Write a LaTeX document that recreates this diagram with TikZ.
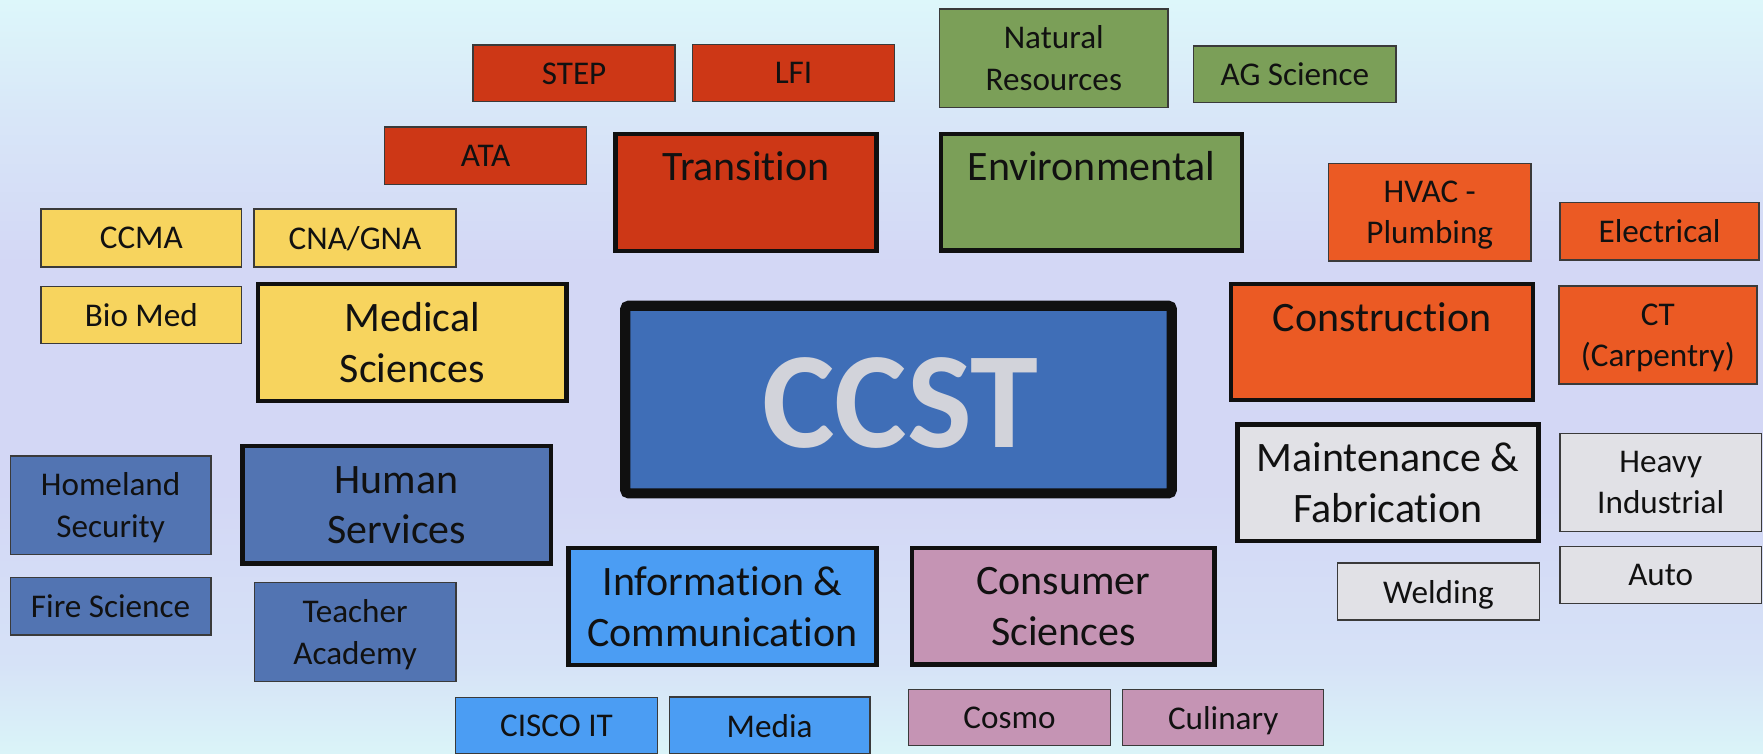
\documentclass[tikz,border=0pt]{standalone}
\usepackage{fontspec}
\setmainfont[Ligatures=NoCommon]{Carlito}
\definecolor{cred}{HTML}{CD3716}
\definecolor{cgreen}{HTML}{7B9F58}
\definecolor{corange}{HTML}{EB5A24}
\definecolor{cyellow}{HTML}{F7D45E}
\definecolor{cblue}{HTML}{5274B2}
\definecolor{cccst}{HTML}{3F6EB7}
\definecolor{clblue}{HTML}{4B9DF3}
\definecolor{cmauve}{HTML}{C594B4}
\definecolor{cgray}{HTML}{E1E1E6}
\definecolor{ccsttext}{HTML}{D2D3DA}
\definecolor{smline}{HTML}{3A3A3A}
\definecolor{bigline}{HTML}{101010}
\definecolor{txt}{HTML}{111111}
\definecolor{bgtop}{HTML}{DDF7FA}
\definecolor{bgup}{HTML}{D8E6F8}
\definecolor{bgmid}{HTML}{D3D7F5}
\definecolor{bglow}{HTML}{D6E2F7}
\definecolor{bgbot}{HTML}{DAF4F8}
\pgfdeclareverticalshading{bgshade}{100bp}{color(0bp)=(bgbot); color(25bp)=(bgbot); color(31bp)=(bglow); color(42.5bp)=(bgmid); color(57.5bp)=(bgmid); color(67bp)=(bgup); color(75bp)=(bgtop); color(100bp)=(bgtop)}
\newcommand\mkbox[8]{%
 \pgfmathsetmacro\bxcx{(#4+#6)/2}%
 \pgfmathsetmacro\bxcy{(#5+#7)/2}%
 \pgfmathsetmacro\bxw{#6-#4-2*#3}%
 \pgfmathsetmacro\bxh{#7-#5-2*#3}%
 \node[#2, minimum width=\bxw pt, minimum height=\bxh pt] (#1) at (\bxcx,\bxcy) {#8};}
\begin{document}
\begin{tikzpicture}[x=1pt,y=-1pt,
  sm/.style={draw=smline, line width=1.3pt, inner sep=0pt, align=center, text depth=0pt, font=\fontsize{29.5}{37}\selectfont, text=txt},
  big/.style={draw=bigline, line width=3.8pt, inner sep=0pt, align=center, text depth=0pt, font=\fontsize{37.3}{45}\selectfont, text=txt},
  bigtxt/.style={inner sep=0pt, font=\fontsize{37.3}{45}\selectfont, text=txt, anchor=base},
  ccstbox/.style={draw=bigline, line width=9pt, rounded corners=3pt, inner sep=0pt, fill=cccst},
  ccsttxt/.style={inner sep=0pt, anchor=base, text=ccsttext, font=\fontsize{122}{140}\selectfont\bfseries}
]
\useasboundingbox (0,0) rectangle (1568.5,670);
\clip (0,0) rectangle (1568.5,670);
\shade[shading=bgshade] (0,0) rectangle (1568.5,670);

% Transition group
\mkbox{step}{sm,fill=cred}{0}{421}{40}{600.5}{90.5}{STEP}
\mkbox{lfi}{sm,fill=cred}{0}{616}{39.5}{796}{90.5}{LFI}
\mkbox{ata}{sm,fill=cred}{0}{342}{113}{522}{164}{ATA}
\mkbox{trans}{big,fill=cred}{1.9}{545.7}{117}{781.7}{225}{}
\node[bigtxt] (transT) at ([yshift=-44pt]trans.north) {Transition};

% Environmental group
\mkbox{natres}{sm,fill=cgreen}{0}{836}{8}{1039}{95.5}{Natural\\Resources}
\mkbox{agsci}{sm,fill=cgreen}{0}{1062}{41}{1242}{91}{AG Science}
\mkbox{env}{big,fill=cgreen}{1.9}{835}{117}{1107}{224.8}{}
\node[bigtxt] (envT) at ([yshift=-44pt]env.north) {Environmental};

% Medical group
\mkbox{ccma}{sm,fill=cyellow}{0}{36.5}{186}{215}{237.5}{CCMA}
\mkbox{cna}{sm,fill=cyellow}{0}{226}{186}{405.6}{237.5}{CNA/GNA}
\mkbox{biomed}{sm,fill=cyellow}{0}{36.5}{255}{215}{305.5}{Bio Med}
\mkbox{med}{big,fill=cyellow}{1.9}{227.4}{251}{506}{358.8}{Medical\\Sciences}

% Construction group
\mkbox{hvac}{sm,fill=corange}{0}{1182}{145.3}{1362}{232.2}{HVAC -\\Plumbing}
\mkbox{elec}{sm,fill=corange}{0}{1388}{180.3}{1565}{231.3}{Electrical}
\mkbox{ct}{sm,fill=corange}{0}{1387}{254.5}{1563}{341.8}{CT\\(Carpentry)}
\mkbox{constr}{big,fill=corange}{1.9}{1093.5}{250.6}{1365.6}{358}{}
\node[bigtxt] (constrT) at ([yshift=-44pt]constr.north) {Construction};

% Maintenance group
\mkbox{maint}{big,fill=cgray}{1.9}{1099}{375.7}{1370.7}{483.4}{Maintenance \&\\Fabrication}
\mkbox{heavy}{sm,fill=cgray}{0}{1388}{385.5}{1567}{473}{Heavy\\Industrial}
\mkbox{weld}{sm,fill=cgray}{0}{1190}{501}{1369.5}{551.6}{Welding}
\mkbox{auto}{sm,fill=cgray}{0}{1388}{486.4}{1567}{536.8}{Auto}

% Human services group
\mkbox{home}{sm,fill=cblue}{0}{9.2}{405.7}{187.6}{493.2}{Homeland\\Security}
\mkbox{fire}{sm,fill=cblue}{0}{9.2}{513.6}{187.6}{565}{Fire Science}
\mkbox{teach}{sm,fill=cblue}{0}{226.4}{518.4}{405.5}{606.5}{Teacher\\Academy}
\mkbox{human}{big,fill=cblue}{1.9}{213.8}{395}{492}{503.3}{Human\\Services}

% Information group
\mkbox{info}{big,fill=clblue}{1.9}{503.9}{485.5}{781.6}{593.7}{Information \&\\Communication}
\mkbox{cisco}{sm,fill=clblue}{0}{405.2}{620.7}{585}{671}{CISCO IT}
\mkbox{media}{sm,fill=clblue}{0}{595.4}{620}{774}{671}{Media}

% Consumer group
\mkbox{cons}{big,fill=cmauve}{1.9}{809.6}{485.5}{1082.4}{593.1}{Consumer\\Sciences}
\mkbox{cosmo}{sm,fill=cmauve}{0}{808.2}{613.3}{988}{663.4}{Cosmo}
\mkbox{culin}{sm,fill=cmauve}{0}{998.8}{613.3}{1177.7}{663.4}{Culinary}

% Centre
\mkbox{ccst}{ccstbox}{4.5}{551.8}{267.5}{1047}{443.4}{}
\node[ccsttxt] (ccstT) at (801,398.5) {CCST};
\end{tikzpicture}
\end{document}
